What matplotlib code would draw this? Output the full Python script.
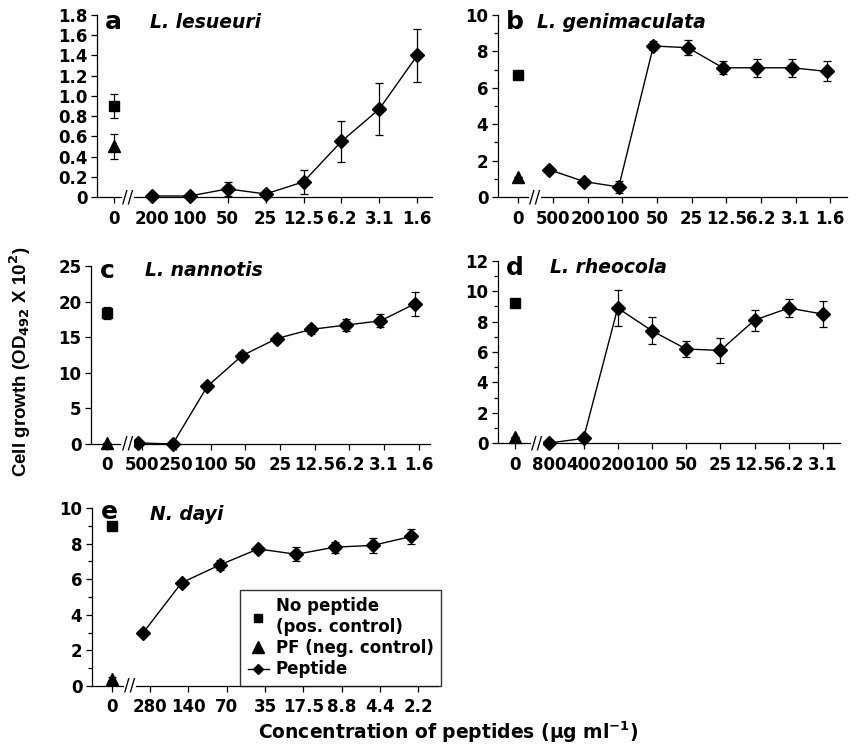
import matplotlib
matplotlib.use('Agg')
import matplotlib.pyplot as plt
from matplotlib.lines import Line2D
from matplotlib.ticker import MultipleLocator, FuncFormatter

plt.rcParams['font.family'] = ['DejaVu Sans']
plt.rcParams['font.weight'] = 'bold'
plt.rcParams['mathtext.default'] = 'bf'
plt.rcParams['axes.linewidth'] = 0.9

W, H = 858, 749

# panel a - L. lesueuri
a_labels = ['200', '100', '50', '25', '12.5', '6.2', '3.1', '1.6']
a_pep = [0.01, 0.01, 0.08, 0.03, 0.15, 0.55, 0.87, 1.40]
a_err = [0.0, 0.0, 0.07, 0.0, 0.12, 0.20, 0.26, 0.26]
a_ctrl = [0.90, 0.50]
a_ctrl_err = [0.12, 0.12]

# panel b - L. genimaculata
b_labels = ['500', '200', '100', '50', '25', '12.5', '6.2', '3.1', '1.6']
b_pep = [1.5, 0.85, 0.55, 8.3, 8.2, 7.1, 7.1, 7.1, 6.9]
b_err = [0.1, 0.1, 0.35, 0.25, 0.4, 0.35, 0.5, 0.5, 0.55]
b_ctrl = [6.7, 1.1]
b_ctrl_err = [0.2, 0.0]

# panel c - L. nannotis
c_labels = ['500', '250', '100', '50', '25', '12.5', '6.2', '3.1', '1.6']
c_pep = [0.15, 0.0, 8.1, 12.4, 14.8, 16.1, 16.7, 17.3, 19.7]
c_err = [0.0, 0.0, 0.5, 0.5, 0.5, 0.6, 0.8, 0.9, 1.7]
c_ctrl = [18.4, 0.2]
c_ctrl_err = [0.8, 0.0]

# panel d - L. rheocola
d_labels = ['800', '400', '200', '100', '50', '25', '12.5', '6.2', '3.1']
d_pep = [0.0, 0.3, 8.9, 7.4, 6.2, 6.1, 8.1, 8.9, 8.5]
d_err = [0.0, 0.0, 1.2, 0.9, 0.55, 0.8, 0.7, 0.6, 0.85]
d_ctrl = [9.2, 0.4]
d_ctrl_err = [0.0, 0.0]

# panel e - N. dayi
e_labels = ['280', '140', '70', '35', '17.5', '8.8', '4.4', '2.2']
e_pep = [3.0, 5.8, 6.8, 7.7, 7.4, 7.8, 7.9, 8.4]
e_err = [0.15, 0.1, 0.3, 0.1, 0.4, 0.3, 0.4, 0.4]
e_ctrl = [9.0, 0.4]
e_ctrl_err = [0.1, 0.1]

fig = plt.figure(figsize=(W / 100, H / 100), dpi=100)


def px(x, y):
    return x / W, (H - y) / H


def panel(left, right, ybot, ytop, xlim, ylim, ymaj, ymin, labels, pep, err,
          ctrl, ctrl_err, shift, brk, letter, name, lxy, nxy, fmt):
    ax = fig.add_axes([left / W, (H - ybot) / H, (right - left) / W, (ybot - ytop) / H])
    ax.set_xlim(*xlim)
    ax.set_ylim(*ylim)
    for s in ['top', 'right']:
        ax.spines[s].set_visible(False)
    xs = list(range(len(labels) + 1))
    ax.set_xticks(xs)
    ax.set_xticklabels(['0'] + labels)
    ax.yaxis.set_major_locator(MultipleLocator(ymaj))
    if ymin:
        ax.yaxis.set_minor_locator(MultipleLocator(ymin))
    ax.yaxis.set_major_formatter(FuncFormatter(fmt))
    ax.tick_params(axis='both', labelsize=12, length=4, width=0.9, pad=5)
    ax.tick_params(axis='y', which='minor', length=3, width=0.9)
    ax.tick_params(axis='y', pad=3)

    px_ = [x + shift for x in xs[1:]]
    ax.errorbar(px_, pep, yerr=err, color='black', lw=1.0, elinewidth=0.9,
                capsize=3, capthick=0.9, marker='D', markersize=7,
                clip_on=False, zorder=3)
    ax.errorbar([0], [ctrl[0]], yerr=[ctrl_err[0]], color='black', marker='s',
                markersize=7, elinewidth=0.9, capsize=3, capthick=0.9,
                ls='none', clip_on=False, zorder=3)
    ax.errorbar([0], [ctrl[1]], yerr=[ctrl_err[1]], color='black', marker='^',
                markersize=8, elinewidth=0.9, capsize=3, capthick=0.9,
                ls='none', clip_on=False, zorder=3)
    ax.text(brk, 0, '//', transform=ax.transData, ha='center', va='center',
            fontsize=12, fontweight='normal', clip_on=False,
            bbox=dict(facecolor='white', edgecolor='none', pad=0.5), zorder=4)
    fig.text(*px(*lxy), letter, fontsize=18, fontweight='bold', va='center', ha='left')
    fig.text(*px(*nxy), name, fontsize=13.5, fontweight='bold', style='italic',
             va='center', ha='left')
    return ax


def dec(v, p):
    return '0' if abs(v) < 1e-9 else f'{v:.1f}'


def integer(v, p):
    return f'{v:.0f}'


panel(97, 432, 197, 15, (-0.45, 8.39), (0, 1.8), 0.2, None, a_labels, a_pep, a_err,
      a_ctrl, a_ctrl_err, 0.0, 0.37, 'a', 'L. lesueuri', (105, 22), (150, 23), dec)
panel(498, 847, 197, 15, (-0.58, 9.48), (0, 10), 2, 1, b_labels, b_pep, b_err,
      b_ctrl, b_ctrl_err, -0.1, 0.49, 'b', 'L. genimaculata', (506, 22), (537, 23), integer)
panel(91, 430, 444, 266, (-0.46, 9.33), (0, 25), 5, None, c_labels, c_pep, c_err,
      c_ctrl, c_ctrl_err, -0.1, 0.6, 'c', 'L. nannotis', (100, 271), (145, 270), integer)
panel(498, 840, 443, 261, (-0.5, 9.5), (0, 12), 2, 1, d_labels, d_pep, d_err,
      d_ctrl, d_ctrl_err, 0.0, 0.64, 'd', 'L. rheocola', (506, 268), (550, 268), integer)
ax_e = panel(92, 438, 686, 508, (-0.52, 8.52), (0, 10), 2, 1, e_labels, e_pep, e_err,
             e_ctrl, e_ctrl_err, -0.18, 0.47, 'e', 'N. dayi', (101, 512), (150, 515), integer)

handles = [
    Line2D([], [], color='black', marker='s', markersize=6, ls='none'),
    Line2D([], [], color='black', marker='^', markersize=9, ls='none'),
    Line2D([], [], color='black', marker='D', markersize=5, lw=1.0),
]
leg = ax_e.legend(handles, ['No peptide\n(pos. control)', 'PF (neg. control)', 'Peptide'],
                  loc='lower left', bbox_to_anchor=px(240, 686), bbox_transform=fig.transFigure,
                  borderaxespad=0, frameon=True, fancybox=False, edgecolor='black',
                  handlelength=1.3, handletextpad=0.4, labelspacing=0.2,
                  borderpad=0.45, prop={'weight': 'bold', 'size': 12})
leg.get_frame().set_linewidth(1.0)

fig.text(*px(20, 362), 'Cell growth (OD$_{492}$ X 10$^{2}$)',
         rotation=90, ha='center', va='center', fontsize=13.5, fontweight='bold',
         family='Liberation Sans')
fig.text(*px(448, 732), 'Concentration of peptides (µg ml$^{-1}$)',
         ha='center', va='center', fontsize=13.5, fontweight='bold')

fig.savefig('out.png', dpi=100)
